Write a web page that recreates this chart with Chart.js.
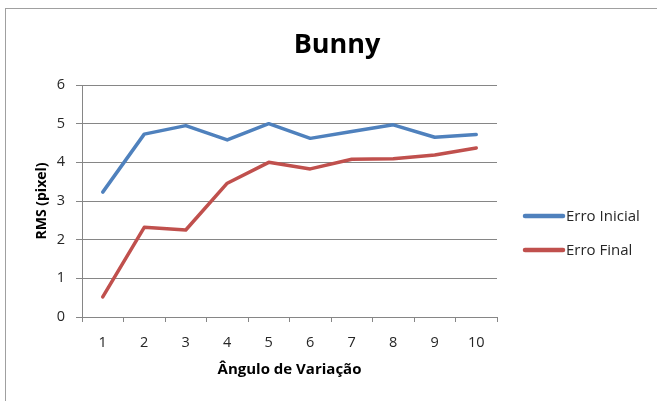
<!DOCTYPE html>
<html>
<head>
<meta charset="utf-8">
<script src="https://cdn.jsdelivr.net/npm/chart.js@4.4.1/dist/chart.umd.min.js"></script>
<style>
  html, body { margin: 0; padding: 0; background: #fff; }
  #wrap { width: 657px; height: 401px; position: relative; }
</style>
</head>
<body>
<div id="wrap"><canvas id="c" width="657" height="401"></canvas></div>
<script>
const categories = ['1', '2', '3', '4', '5', '6', '7', '8', '9', '10'];
const erroInicial = [3.23, 4.73, 4.95, 4.58, 5.0, 4.62, 4.8, 4.97, 4.65, 4.72];
const erroFinal = [0.52, 2.32, 2.25, 3.46, 4.0, 3.83, 4.08, 4.09, 4.19, 4.37];
const yTicks = [0, 1, 2, 3, 4, 5, 6];
const seriesNames = ['Erro Inicial', 'Erro Final'];
const chartTitle = 'Bunny';
const xTitle = 'Ângulo de Variação';
const yTitle = 'RMS (pixel)';

const FONT = "'Open Sans', 'Liberation Sans', sans-serif";
const GRID = '#868686';

const framePlugin = {
  id: 'frame',
  beforeDraw(chart) {
    const ctx = chart.ctx;
    ctx.save();
    ctx.fillStyle = '#ffffff';
    ctx.fillRect(0, 0, chart.width, chart.height);
    ctx.strokeStyle = '#a0a0a0';
    ctx.lineWidth = 1;
    ctx.strokeRect(5.5, 8.5, chart.width + 10, chart.height + 10);
    ctx.restore();
  }
};

const legendPlugin = {
  id: 'sideLegend',
  afterDraw(chart) {
    const ctx = chart.ctx;
    const ca = chart.chartArea;
    const x0 = ca.right + 28;
    const lineLen = 38;
    const ys = [216, 250];
    ctx.save();
    chart.data.datasets.forEach((ds, i) => {
      const y = ys[i];
      ctx.strokeStyle = ds.borderColor;
      ctx.lineWidth = 4.5;
      ctx.lineCap = 'round';
      ctx.beginPath();
      ctx.moveTo(x0, y);
      ctx.lineTo(x0 + lineLen, y);
      ctx.stroke();
      ctx.fillStyle = '#262626';
      ctx.font = '15px ' + FONT;
      ctx.textBaseline = 'middle';
      ctx.textAlign = 'left';
      ctx.fillText(ds.label, x0 + lineLen + 3, y + 1);
    });
    ctx.restore();
  }
};

new Chart(document.getElementById('c'), {
  type: 'line',
  data: {
    labels: categories,
    datasets: [
      { label: seriesNames[0], data: erroInicial, borderColor: '#4F81BD', backgroundColor: '#4F81BD',
        borderWidth: 3.5, pointRadius: 0, tension: 0, borderCapStyle: 'round', borderJoinStyle: 'round' },
      { label: seriesNames[1], data: erroFinal, borderColor: '#C0504D', backgroundColor: '#C0504D',
        borderWidth: 3.5, pointRadius: 0, tension: 0, borderCapStyle: 'round', borderJoinStyle: 'round' }
    ]
  },
  options: {
    responsive: false,
    animation: false,
    devicePixelRatio: 1,
    layout: { padding: { left: 17, right: 0, top: 0, bottom: 0 } },
    plugins: {
      legend: { display: false },
      tooltip: { enabled: false },
      title: {
        display: true,
        text: chartTitle,
        color: '#000',
        font: { family: FONT, size: 27, weight: 'bold', lineHeight: 1.2 },
        padding: { top: 29, bottom: 23.6 }
      }
    },
    scales: {
      x: {
        offset: true,
        grid: { display: true, drawOnChartArea: false, drawTicks: true, tickLength: 5, color: GRID, offset: true },
        border: { display: true, color: GRID, width: 1 },
        ticks: { color: '#262626', font: { family: FONT, size: 14.5 }, padding: 12, maxRotation: 0 },
        title: { display: true, text: xTitle, color: '#000', font: { family: FONT, size: 15, weight: 'bold', lineHeight: 1.2 }, padding: { top: 0, bottom: 22 } },
        afterFit(scale) { scale.height = 84; }
      },
      y: {
        min: 0, max: 6,
        afterBuildTicks(scale) { scale.ticks = yTicks.map(v => ({ value: v })); },
        grid: { display: true, drawOnChartArea: true, drawTicks: true, tickLength: 6, color: GRID },
        border: { display: true, color: GRID, width: 1 },
        ticks: { color: '#262626', font: { family: FONT, size: 14.5 }, padding: 11 },
        title: { display: true, text: yTitle, color: '#000', font: { family: FONT, size: 14, weight: 'bold', lineHeight: 1.2 }, padding: { top: 17, bottom: 0 } },
        afterFit(scale) { scale.width = 65; }
      },
      spacer: {
        type: 'linear',
        position: 'right',
        display: true,
        grid: { display: false, drawTicks: false },
        border: { display: false },
        ticks: { display: false },
        afterFit(scale) { scale.width = 160; }
      }
    }
  },
  plugins: [framePlugin, legendPlugin]
});
</script>
</body>
</html>
